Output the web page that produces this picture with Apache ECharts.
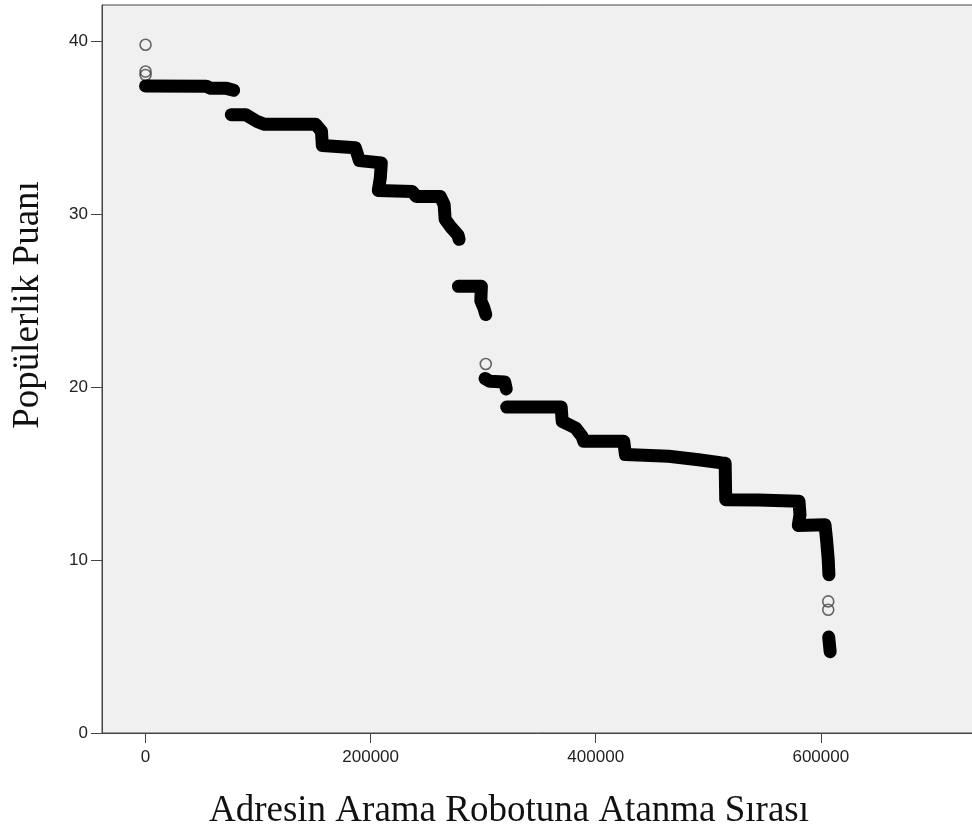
<!DOCTYPE html>
<html>
<head>
<meta charset="utf-8">
<script src="https://cdn.jsdelivr.net/npm/echarts@6/dist/echarts.min.js"></script>
<style>
  html, body { margin: 0; padding: 0; background: #fff; }
  #chart { width: 972px; height: 829px; }
</style>
</head>
<body>
<div id="chart"></div>
<script>
// tick labels
const xTicks = [0, 200000, 400000, 600000]
const yTicks = [0, 10, 20, 30, 40]

// dense runs of overlapping markers as [sira, puan]
const runA = [[0, 37.42], [54000, 37.4], [58000, 37.28], [72000, 37.28], [78300, 37.17]]
const runB = [
    [76200, 35.76], [88900, 35.76], [99500, 35.35], [105800, 35.2], [151000, 35.2],
    [156300, 34.8], [157100, 33.97], [186400, 33.85], [190000, 33.1], [209500, 32.97],
    [208600, 32.1], [206800, 31.37], [237000, 31.31], [240500, 31.03], [261800, 31.03],
    [265300, 30.56], [266200, 29.7], [271500, 29.24], [277700, 28.78], [278600, 28.55]
]
const runC = [[278000, 25.83], [298400, 25.83], [297900, 25.0], [300500, 24.6], [302300, 24.2]]
const runD = [[301700, 20.5], [306000, 20.34], [319100, 20.3], [320500, 19.9]]
const runE = [
    [320900, 18.85], [369300, 18.85], [370200, 18.02], [382100, 17.64], [387900, 17.15],
    [389400, 16.87], [424900, 16.87], [426400, 16.1], [464800, 16.0], [491400, 15.8],
    [512000, 15.62], [515000, 15.6], [515500, 13.49], [545000, 13.47], [580600, 13.4],
    [581500, 12.63], [580000, 12.0], [603700, 12.05], [605100, 11.18], [606600, 10.02],
    [607200, 9.15]
]
const runF = [[607000, 5.55], [608300, 4.7]]
// single hollow markers
const outliers = [[0, 39.8], [0, 38.25], [0, 38.05], [302300, 21.34], [606600, 7.61], [606600, 7.13]]

const runs = [runA, runB, runC, runD, runE, runF]

let series = runs.map(function (run) {
    return {
        type: 'line',
        data: run,
        symbol: 'none',
        silent: true,
        lineStyle: { color: '#000', width: 13, cap: 'round', join: 'round' }
    }
})
series.push({
    type: 'scatter',
    data: outliers,
    symbol: 'circle',
    symbolSize: 11,
    itemStyle: { color: 'rgba(0,0,0,0)', borderColor: '#444', borderWidth: 1.6 }
})

let option = {
    animation: false,
    backgroundColor: '#fff',
    grid: {
        left: 102,
        top: 5,
        right: -3,
        bottom: 96,
        outerBoundsMode: 'none',
        containLabel: false,
        show: true,
        backgroundColor: '#f0f0f0',
        borderColor: '#444',
        borderWidth: 1
    },
    xAxis: {
        type: 'value',
        min: -38700,
        max: 737000,
        splitLine: { show: false },
        axisLine: { show: true, onZero: false, lineStyle: { color: '#444', width: 1 } },
        axisTick: { show: true, customValues: xTicks, length: 10, lineStyle: { color: '#444' } },
        axisLabel: {
            customValues: xTicks,
            margin: 16,
            color: '#222',
            fontSize: 17,
            fontFamily: 'Liberation Sans',
            formatter: function (v) { return String(v) }
        },
        name: 'Adresin Arama Robotuna Atanma Sırası',
        nameLocation: 'middle',
        nameGap: 60,
        nameTextStyle: {
            fontFamily: 'Liberation Serif',
            fontSize: 37,
            color: '#111',
            padding: [0, 59, 0, 0]
        }
    },
    yAxis: {
        type: 'value',
        min: 0,
        max: 42.1,
        splitLine: { show: false },
        axisLine: { show: true, onZero: false, lineStyle: { color: '#444', width: 1 } },
        axisTick: { show: true, customValues: yTicks, length: 11, lineStyle: { color: '#444' } },
        axisLabel: {
            customValues: yTicks,
            margin: 14,
            color: '#222',
            fontSize: 17,
            fontFamily: 'Liberation Sans'
        }
    },
    graphic: [{
        type: 'text',
        x: 28,
        y: 305,
        rotation: Math.PI / 2,
        style: {
            text: 'Popülerlik Puanı',
            font: '37px "Liberation Serif"',
            fill: '#111',
            align: 'center',
            verticalAlign: 'middle'
        }
    }],
    series: series
}

let chart = echarts.init(document.getElementById('chart'))
chart.setOption(option)
</script>
</body>
</html>
